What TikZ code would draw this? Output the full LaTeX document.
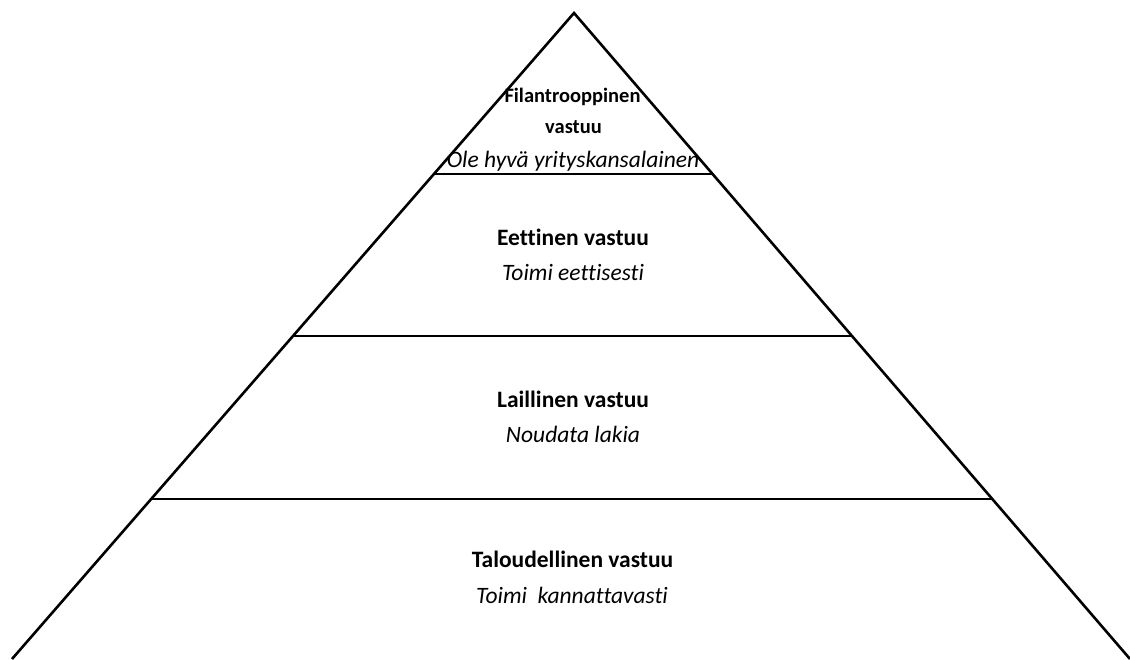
\documentclass[tikz,border=0pt]{standalone}
\usepackage{fontspec}
\setmainfont[Ligatures=NoCommon]{Carlito}
\begin{document}
\begin{tikzpicture}[x=1pt,y=-1pt,
  edge/.style={line width=2.6pt,line join=miter,line cap=butt},
  sep/.style={line width=2.4pt},
  title/.style={font=\fontsize{23.5}{28}\selectfont\bfseries,inner sep=0pt,anchor=base},
  smalltitle/.style={font=\fontsize{20.5}{24}\selectfont\bfseries,inner sep=0pt,anchor=base},
  sub/.style={font=\fontsize{23.5}{28}\selectfont\itshape,inner sep=0pt,anchor=base}]
\useasboundingbox (0,0) rectangle (1130,659);
\coordinate (apex) at (574,13);
\coordinate (bl) at (12,659);
\coordinate (br) at (1130,659);
\coordinate (l1) at (433.9,174);
\coordinate (r1) at (712.6,174);
\coordinate (l2) at (293.0,336);
\coordinate (r2) at (852.0,336);
\coordinate (l3) at (151.2,499);
\coordinate (r3) at (992.3,499);
\draw[edge] (bl) -- (apex) -- (br);
\draw[sep] (l1) -- (r1);
\draw[sep] (l2) -- (r2);
\draw[sep] (l3) -- (r3);
\node[smalltitle] (f1) at (572.5,102) {Filantrooppinen};
\node[smalltitle] (f2) at (573.5,133) {vastuu};
\node[sub] (f3) at (573,167) {Ole hyvä yrityskansalainen};
\node[title] (e1) at (573,245) {Eettinen vastuu};
\node[sub] (e2) at (573,280) {Toimi eettisesti};
\node[title] (l1t) at (573,407) {Laillinen vastuu};
\node[sub] (l2t) at (573,442) {Noudata lakia};
\node[title] (t1) at (572.5,567) {Taloudellinen vastuu};
\node[sub] (t2) at (572,603) {Toimi\ \ kannattavasti};
\end{tikzpicture}
\end{document}
